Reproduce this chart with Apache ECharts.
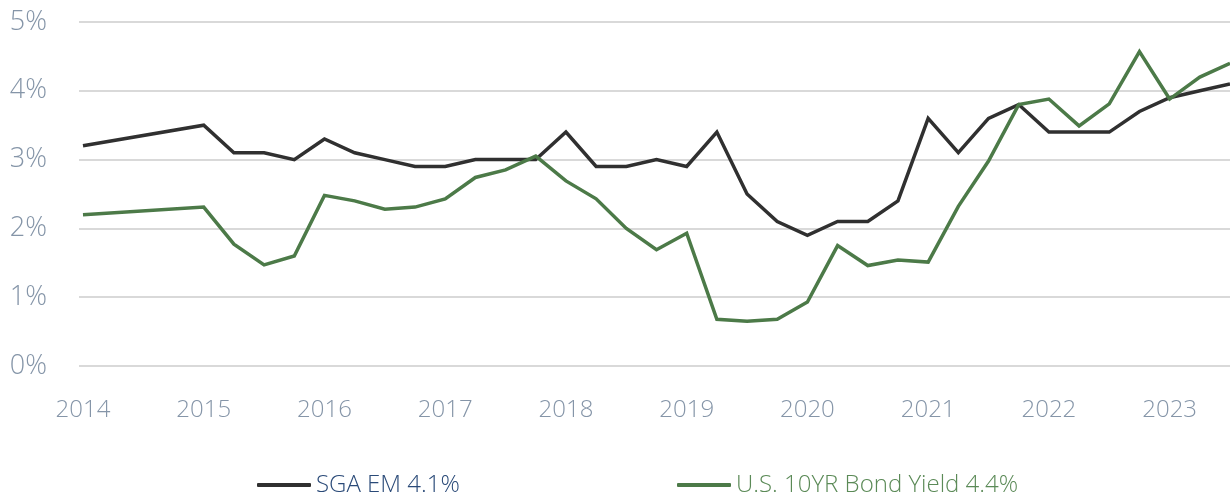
<!DOCTYPE html>
<html>
<head>
<meta charset="utf-8">
<script src="https://cdn.jsdelivr.net/npm/echarts@6/dist/echarts.min.js"></script>
<style>
  html, body { margin: 0; padding: 0; background: #fff; }
  #chart { width: 1230px; height: 494px; }
</style>
</head>
<body>
<div id="chart"></div>
<script>
// quarterly points, first one is a lone 2014 reading
var years = [2014,
  2015, 2015.25, 2015.5, 2015.75, 2016, 2016.25, 2016.5, 2016.75,
  2017, 2017.25, 2017.5, 2017.75, 2018, 2018.25, 2018.5, 2018.75,
  2019, 2019.25, 2019.5, 2019.75, 2020, 2020.25, 2020.5, 2020.75,
  2021, 2021.25, 2021.5, 2021.75, 2022, 2022.25, 2022.5, 2022.75,
  2023, 2023.25, 2023.5]
var sgaEm = [3.2,
  3.5, 3.1, 3.1, 3.0, 3.3, 3.1, 3.0, 2.9,
  2.9, 3.0, 3.0, 3.0, 3.4, 2.9, 2.9, 3.0,
  2.9, 3.4, 2.5, 2.1, 1.9, 2.1, 2.1, 2.4,
  3.6, 3.1, 3.6, 3.8, 3.4, 3.4, 3.4, 3.7,
  3.9, 4.0, 4.1]
var bondYield = [2.2,
  2.31, 1.77, 1.47, 1.60, 2.48, 2.40, 2.28, 2.31,
  2.43, 2.74, 2.85, 3.05, 2.69, 2.43, 2.00, 1.69,
  1.93, 0.68, 0.65, 0.68, 0.93, 1.75, 1.46, 1.54,
  1.51, 2.32, 2.98, 3.80, 3.88, 3.49, 3.81, 4.57,
  3.88, 4.20, 4.40]
var yearLabels = [2014, 2015, 2016, 2017, 2018, 2019, 2020, 2021, 2022, 2023]
var seriesNames = ['SGA EM 4.1%', 'U.S. 10YR Bond Yield 4.4%']

var font = "'Open Sans', 'Noto Sans', sans-serif"
var pairs = function (vals) { return years.map(function (y, i) { return [y, vals[i]] }) }

var myChart = echarts.init(document.getElementById('chart'))
var option = {
  animation: false,
  grid: { left: 79, right: -5, top: 22, bottom: 128 },
  legend: [
    {
      data: [seriesNames[0]],
      left: 252, top: 468,
      icon: 'roundRect', itemWidth: 54, itemHeight: 4, itemGap: 4,
      textStyle: { color: '#2a4a78', fontSize: 24, fontWeight: 300, fontFamily: font }
    },
    {
      data: [seriesNames[1]],
      left: 672, top: 468,
      icon: 'roundRect', itemWidth: 54, itemHeight: 4, itemGap: 4,
      textStyle: { color: '#5b8a57', fontSize: 24, fontWeight: 300, fontFamily: font }
    }
  ],
  xAxis: {
    type: 'value',
    min: 2013.967,
    max: 2023.5,
    axisLine: { show: false },
    axisTick: { show: false },
    splitLine: { show: false },
    axisLabel: {
      customValues: yearLabels,
      margin: 32,
      color: '#8595a8',
      fontSize: 24,
      fontWeight: 300,
      fontFamily: font,
      formatter: function (v) { return String(v) }
    }
  },
  yAxis: {
    type: 'value',
    min: 0, max: 5, interval: 1,
    axisLine: { show: false },
    axisTick: { show: false },
    splitLine: { lineStyle: { color: '#d9d9d9', width: 2 } },
    axisLabel: {
      margin: 32,
      color: '#8595a8',
      fontSize: 27,
      fontWeight: 300,
      fontFamily: font,
      formatter: '{value}%'
    }
  },
  series: [
    {
      name: seriesNames[0],
      type: 'line',
      data: pairs(sgaEm),
      showSymbol: false,
      color: '#303030',
      lineStyle: { width: 3.5, color: '#303030', join: 'miter' }
    },
    {
      name: seriesNames[1],
      type: 'line',
      data: pairs(bondYield),
      showSymbol: false,
      color: '#4c7a48',
      lineStyle: { width: 3.5, color: '#4c7a48', join: 'miter' }
    }
  ]
}
option && myChart.setOption(option)
window.addEventListener('resize', function () { myChart.resize() })
</script>
</body>
</html>
